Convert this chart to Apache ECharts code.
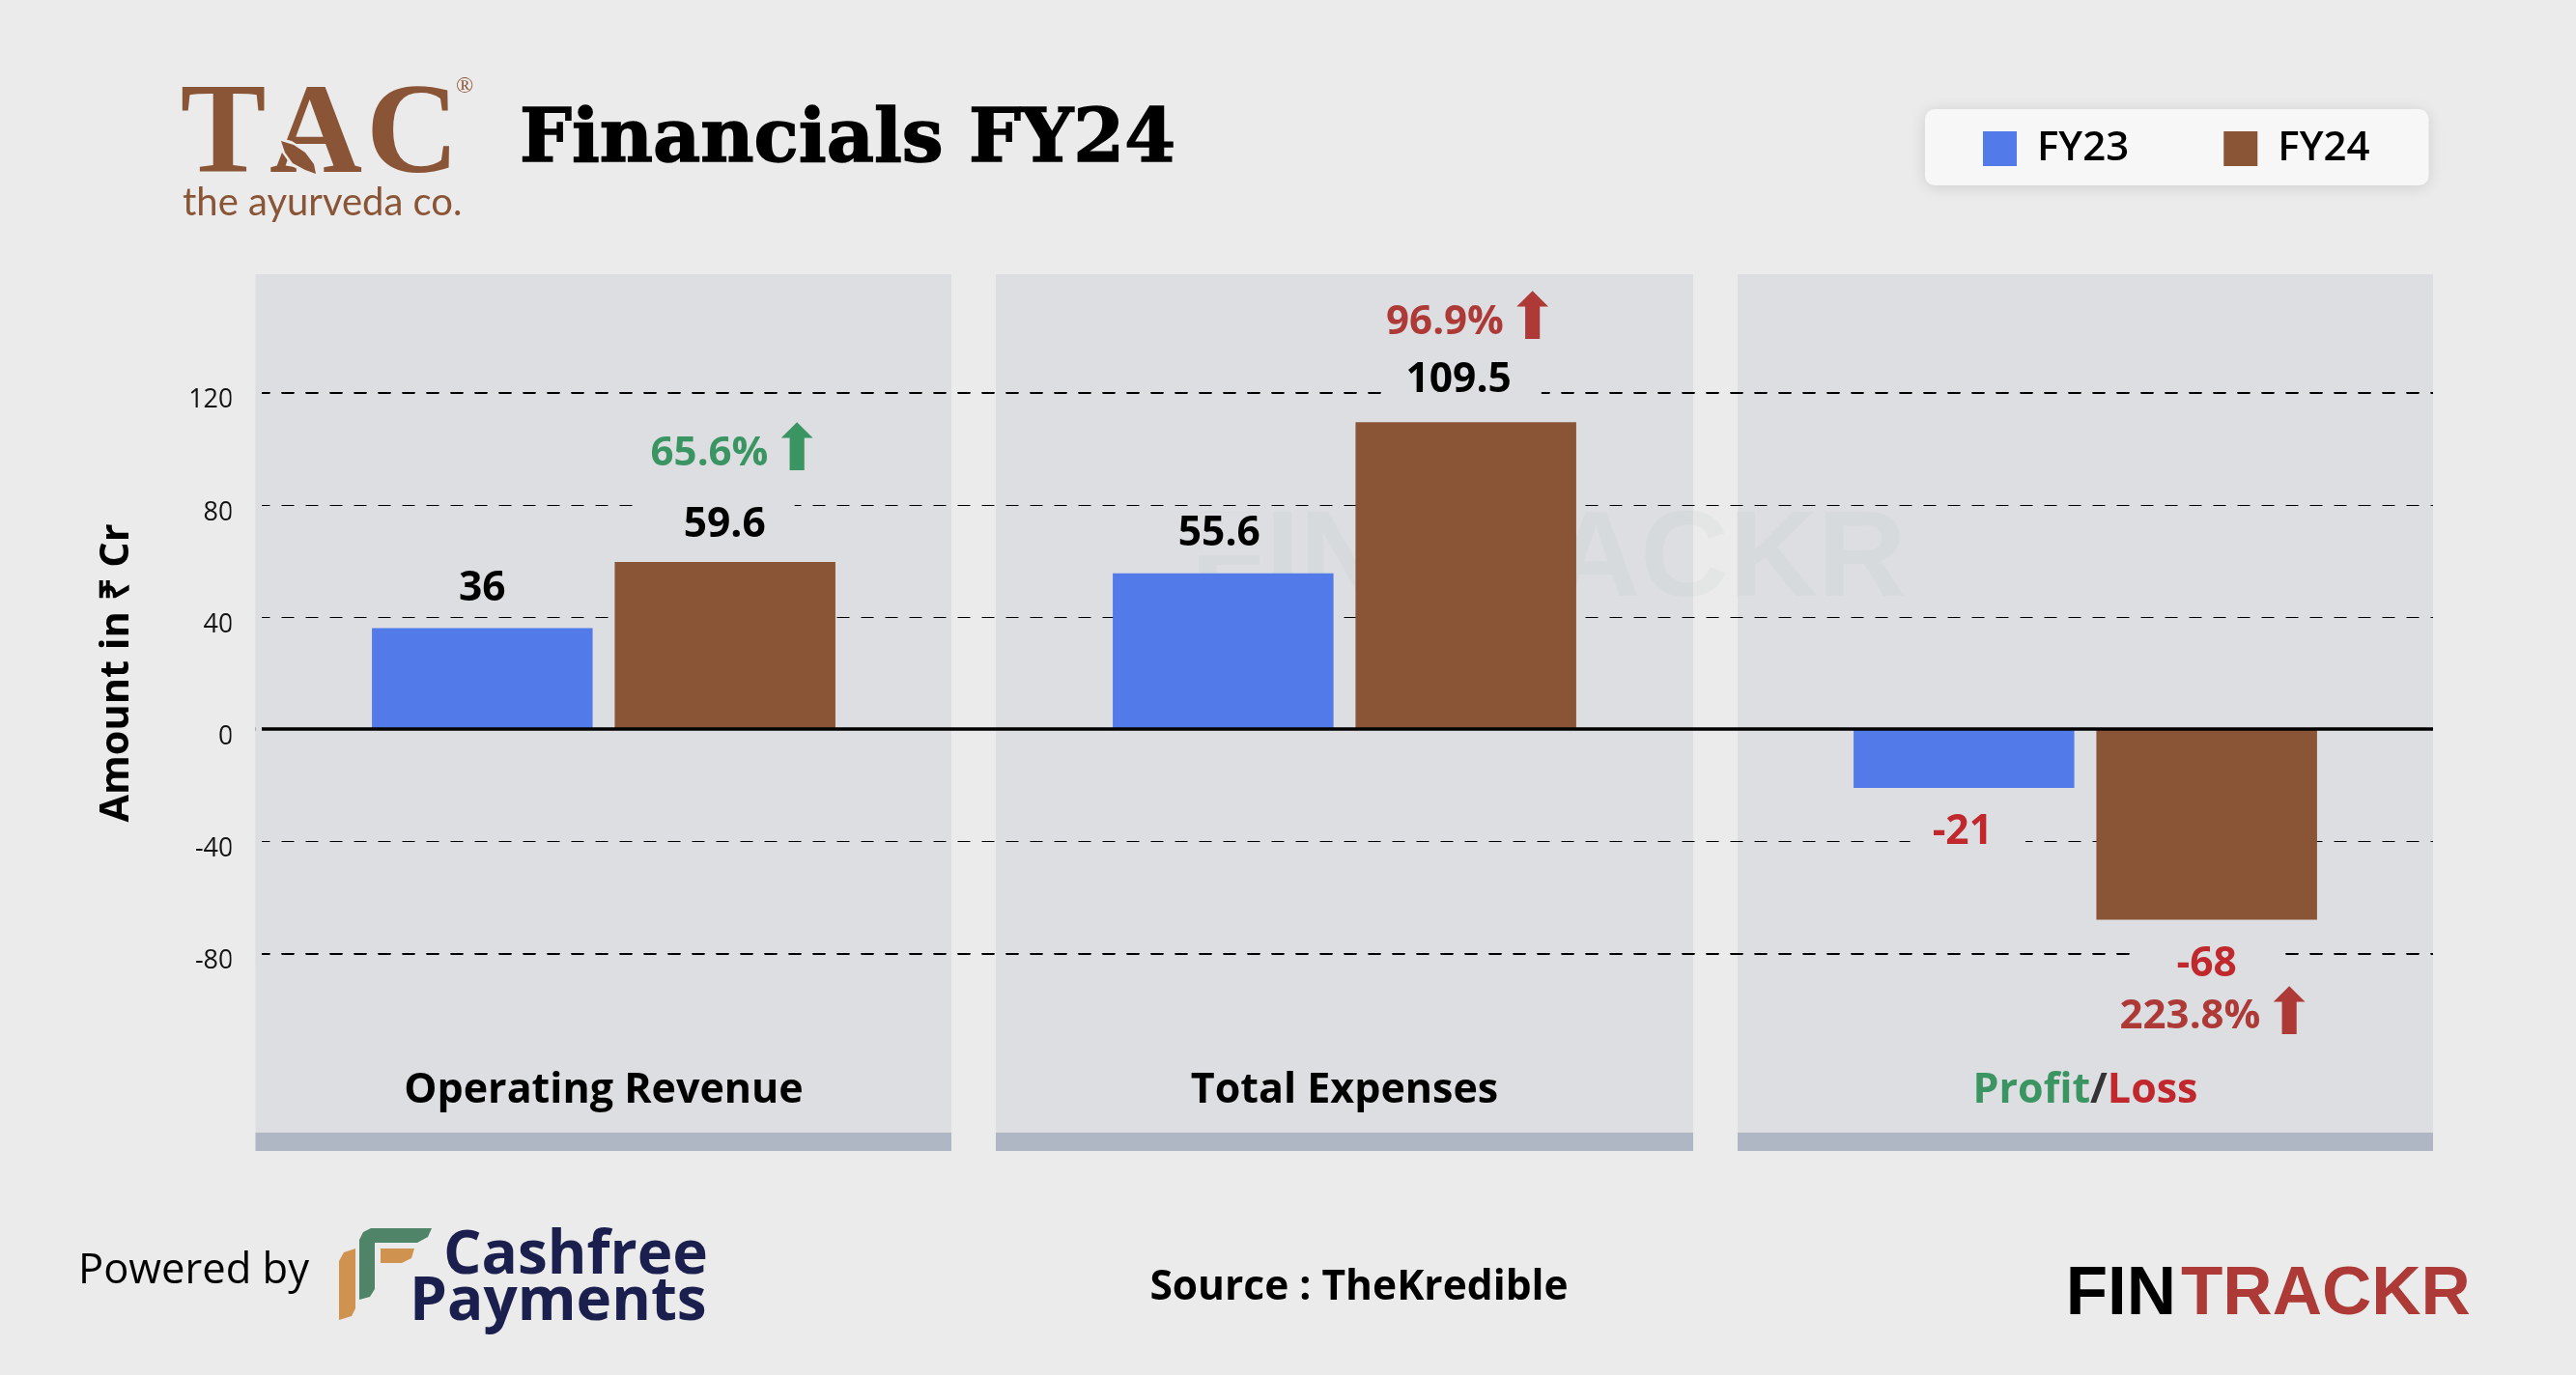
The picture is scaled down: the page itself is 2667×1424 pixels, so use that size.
<!DOCTYPE html>
<html>
<head>
<meta charset="utf-8">
<title>Financials FY24</title>
<script src="https://cdn.jsdelivr.net/npm/echarts@6/dist/echarts.min.js"></script>
<style>
  html, body { margin: 0; padding: 0; background: #ebebeb; }
  #chart { width: 2667px; height: 1424px; }
</style>
</head>
<body>
<div id="chart"></div>
<script>
// data (Rs Cr)
var categories = ['Operating Revenue', 'Total Expenses', 'Profit/Loss'];
var seriesNames = ['FY23', 'FY24'];
var fy23Values = [36, 55.6, -21];
var fy24Values = [59.6, 109.5, -68];
var growthLabels = ['65.6%', '96.9%', '223.8%'];

var BG = '#ebebeb', PANEL = '#dcdee1', STRIP = '#aeb7c3';
var BLUE = '#527ae9', BROWN = '#8a5536';
var GREEN = '#3a9562', RED = '#ad3a36', LOSS = '#c0282d';
var SANS = '"Open Sans"';
var growthColors = [GREEN, RED, RED];

// grid edges, bands are centred on the three panels
var gridLeft = 241.5, gridWidth = 2301;
var panels = [[264.5, 985], [1031, 1753], [1799, 2519]];

// label nudges per bar: [left pad, right pad, x offset, distance]
var fy23Nudge = [[10, 10, 0, 19], [10, 10, -4, 19], [23, 34, 4, 24]];
var fy24Nudge = [[48, 30, -9.5, 16], [24, 31, -4, 21], [45, 43, -1, 24]];
// growth line: [line height, left pad]
var growthNudge = [[104, 44], [76, 22], [66, 25]];

function barData(values, nudge, withGrowth) {
  return values.map(function (v, i) {
    var neg = v < 0;
    var n = nudge[i];
    var val = '{val|' + v + '}';
    var text = val;
    var rich = {
      val: { fontFamily: SANS, fontSize: 42.5, fontWeight: 700, color: neg ? LOSS : '#000', backgroundColor: PANEL,
        padding: [0, n[1], 0, n[0]], height: 44, lineHeight: 44, verticalAlign: 'middle' }
    };
    if (withGrowth) {
      var g = growthNudge[i];
      var pct = '{pct|' + growthLabels[i] + '}{arrow|\u2B06}';
      rich.pct = { fontFamily: SANS, fontSize: 42, fontWeight: 700, color: growthColors[i], lineHeight: g[0], padding: [0, 0, 0, g[1]] };
      rich.arrow = { fontFamily: 'DejaVu Sans', fontSize: 66, color: growthColors[i], lineHeight: g[0], padding: [0, 0, 0, 2] };
      text = neg ? val + '\n' + pct : pct + '\n' + val;
    }
    return {
      value: v,
      label: { show: true, position: neg ? 'bottom' : 'top', distance: n[3], offset: [n[2], 0], formatter: text, rich: rich }
    };
  });
}

var elements = [];
panels.forEach(function (p) {
  elements.push({ type: 'rect', z: -2, shape: { x: p[0], y: 284, width: p[1] - p[0], height: 889 }, style: { fill: PANEL } });
  elements.push({ type: 'rect', z: -2, shape: { x: p[0], y: 1173, width: p[1] - p[0], height: 19 }, style: { fill: STRIP } });
});
// the grid is wider than the drawn rules, cover the overhang
elements.push({ type: 'rect', z: 4, shape: { x: gridLeft - 2, y: 400, width: 25, height: 600 }, style: { fill: BG } });
elements.push({ type: 'rect', z: 4, shape: { x: 264.5, y: 400, width: 6.5, height: 600 }, style: { fill: PANEL } });
elements.push({ type: 'rect', z: 4, shape: { x: 2519, y: 400, width: 28, height: 600 }, style: { fill: BG } });

function txt(x, y, text, font, fill, align) {
  return { type: 'text', x: x, y: y, z: 5, style: { text: text, font: font, fill: fill, align: align || 'left', verticalAlign: 'middle' } };
}
function poly(points, fill, z) {
  return { type: 'polygon', z: z || 5, shape: { points: points }, style: { fill: fill } };
}
// watermark
elements.push({ type: 'text', x: 1603, y: 582, z: -1, style: { text: 'FINTRACKR', font: 'bold 127px "Liberation Sans"', fill: 'rgba(190,196,202,0.16)', align: 'center', verticalAlign: 'middle' } });

// TAC logo
var serif = 'bold 133px "Liberation Serif"';
elements.push(txt(231, 144, 'T', serif, BROWN, 'center'));
elements.push(txt(327, 144, 'A', serif, BROWN, 'center'));
elements.push(txt(427, 144, 'C', serif, BROWN, 'center'));
elements.push(txt(481, 90, '\u00AE', '24px "Liberation Serif"', BROWN, 'center'));
elements.push(txt(189, 210, 'the ayurveda co.', '40px Lato', BROWN));
elements.push(poly([[287, 142], [302, 146], [318, 156], [328, 170], [331, 186], [318, 180], [302, 172], [292, 158]], BG, 6));
elements.push(poly([[291, 146], [304, 150], [316, 158], [325, 170], [327, 180], [316, 176], [303, 169], [295, 158]], BROWN, 7));

// footer
elements.push(txt(81, 1317, 'Powered by', '43.5px ' + SANS, '#000'));
elements.push(poly([[372, 1284], [376, 1276], [384, 1272], [447, 1272], [443, 1281], [432, 1287], [388, 1287], [388, 1335], [383, 1343], [372, 1346]], '#4f8468'));
elements.push(poly([[394, 1293], [429, 1293], [426, 1303], [416, 1308], [394, 1308]], '#cf934f'));
elements.push(poly([[368, 1293], [368, 1355], [364, 1363], [351, 1367], [351, 1306], [356, 1297]], '#cf934f'));
elements.push(txt(459, 1301, 'Cashfree', 'bold 62px ' + SANS, '#1a1f4e'));
elements.push(txt(424, 1349, 'Payments', 'bold 62px ' + SANS, '#1a1f4e'));
elements.push(txt(1407, 1334, 'Source : TheKredible', 'bold 42.5px ' + SANS, '#000', 'center'));
elements.push(txt(2253, 1341, 'FIN', 'bold 71px "Liberation Sans"', '#000', 'right'));
elements.push(txt(2258, 1341, 'TRACKR', 'bold 71px "Liberation Sans"', RED));

var option = {
  backgroundColor: BG,
  animation: false,
  title: {
    text: 'Financials FY24', left: 533, top: 104,
    textStyle: { fontFamily: 'DejaVu Serif', fontWeight: 'bold', fontSize: 76, color: '#000', textBorderColor: '#000', textBorderWidth: 1.5 }
  },
  legend: {
    left: 1993, top: 113,
    data: seriesNames,
    icon: 'rect',
    itemWidth: 35, itemHeight: 36, itemGap: 98,
    padding: [20, 61, 17, 60],
    backgroundColor: '#f7f7f7', borderRadius: 10,
    shadowColor: 'rgba(0,0,0,0.12)', shadowBlur: 16, shadowOffsetY: 2,
    textStyle: { fontFamily: SANS, fontWeight: 600, fontSize: 42, color: '#000', padding: [5, 0, 0, 16] }
  },
  grid: { left: gridLeft, width: gridWidth, top: 406.7, height: 580.6, containLabel: false },
  xAxis: {
    type: 'category',
    z: 3,
    data: categories,
    axisLine: { onZero: true, lineStyle: { color: '#000', width: 3.5 } },
    axisTick: { show: false },
    axisLabel: {
      margin: 121,
      fontFamily: SANS, fontWeight: 700, fontSize: 43, color: '#000',
      formatter: function (v) {
        if (v.indexOf('/') < 0) return v;
        var parts = v.split('/');
        return '{g|' + parts[0] + '}{s|/}{r|' + parts[1] + '}';
      },
      rich: {
        g: { fontFamily: SANS, fontWeight: 700, fontSize: 43, color: GREEN },
        s: { fontFamily: SANS, fontWeight: 700, fontSize: 43, color: '#333' },
        r: { fontFamily: SANS, fontWeight: 700, fontSize: 43, color: LOSS }
      }
    }
  },
  yAxis: [
    {
      type: 'value',
      min: -80, max: 120, interval: 40,
      name: 'Amount in \u20B9 Cr',
      nameLocation: 'middle', nameGap: 99, nameRotate: 90,
      nameTextStyle: { fontFamily: SANS, fontWeight: 700, fontSize: 41.5, color: '#000' },
      axisLine: { show: false },
      axisTick: { show: false },
      axisLabel: { margin: 0, fontFamily: SANS, fontSize: 27, color: '#111', verticalAlign: 'top', lineHeight: 16 },
      splitLine: { lineStyle: { color: '#000', type: [13, 12], width: 1.2 } }
    },
    {
      // the outer rules are drawn heavier than the inner ones
      type: 'value',
      position: 'left',
      min: -80, max: 120, interval: 200,
      axisLine: { show: false },
      axisTick: { show: false },
      axisLabel: { show: false },
      splitLine: { lineStyle: { color: '#000', type: [13, 12], width: 2 } }
    }
  ],
  series: [
    { name: 'FY23', type: 'bar', barWidth: 228.5, barGap: '10%', itemStyle: { color: BLUE }, data: barData(fy23Values, fy23Nudge, false) },
    { name: 'FY24', type: 'bar', barWidth: 228.5, itemStyle: { color: BROWN }, data: barData(fy24Values, fy24Nudge, true) }
  ],
  graphic: { elements: elements }
};

var chart = echarts.init(document.getElementById('chart'));
chart.setOption(option);
</script>
</body>
</html>
